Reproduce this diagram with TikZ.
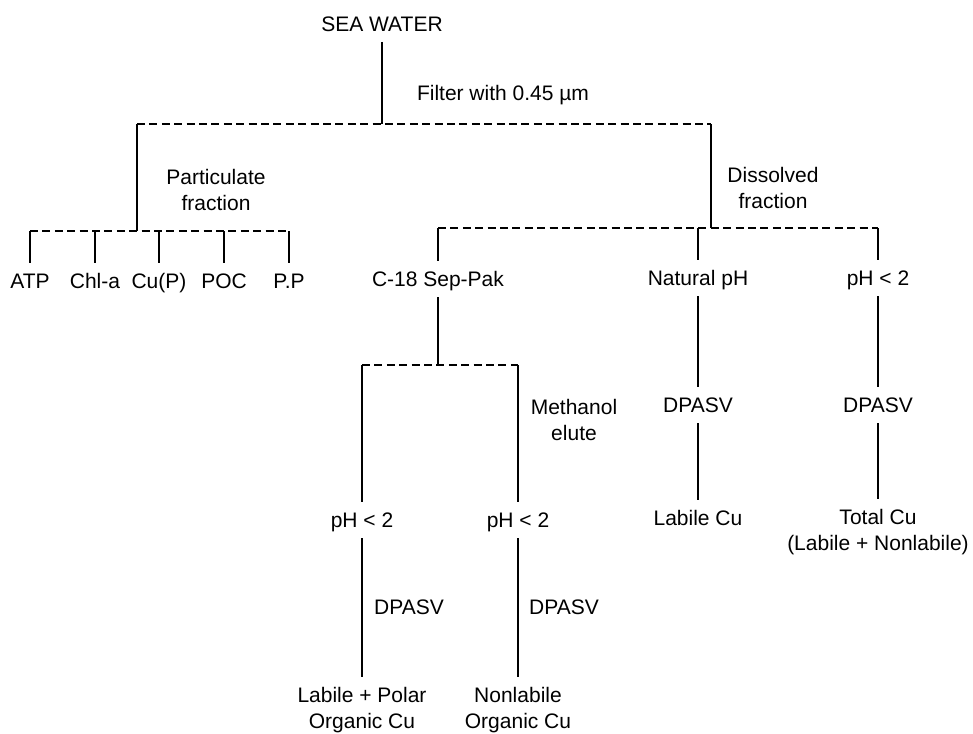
\documentclass[tikz,border=0pt]{standalone}
\usepackage{fontspec}
\setmainfont{Liberation Sans}
\usetikzlibrary{calc}

\begin{document}
\begin{tikzpicture}[x=0.5pt, y=-0.5pt,
    lbl/.style={inner xsep=3pt, inner ysep=5pt, font=\fontsize{10.5}{13}\selectfont, text height=7.6pt, text depth=0pt},
    note/.style={inner xsep=3pt, inner ysep=5pt, font=\fontsize{10.5}{13}\selectfont, align=center},
    link/.style={line width=0.7pt},
    bar/.style={line width=0.7pt, dash pattern=on 4pt off 2.2pt}]
\useasboundingbox (0,0) rectangle (973,733);

\node[lbl] (sea) at (382,24) {SEA WATER};
\node[lbl] (filter) at (503,93) {Filter with 0.45 µm};
\node[note] (part) at (216,190) {Particulate\\fraction};
\node[note] (diss) at (773,188) {Dissolved\\fraction};

\foreach \n/\x/\t in {atp/30/ATP, chla/95/Chl-a, cup/159/Cu(P), poc/224/POC, pp/289/P.P}
    \node[lbl] (\n) at (\x,281) {\t};

\node[lbl] (sep) at (438,279) {C-18 Sep-Pak};
\node[lbl] (nat) at (698,278) {Natural pH};
\node[lbl] (acid) at (878,278) {pH < 2};

\node[note] (meth) at (574,420) {Methanol\\elute};
\node[lbl] (phA) at (362,520) {pH < 2};
\node[lbl] (phB) at (518,520) {pH < 2};
\node[lbl] (dpA) at (409,607) {DPASV};
\node[lbl] (dpB) at (564,607) {DPASV};
\node[note] (labA) at (362,710) {Labile + Polar\\Organic Cu};
\node[note] (labB) at (518,710) {Nonlabile\\Organic Cu};

\node[lbl] (dpN) at (698,405) {DPASV};
\node[lbl] (dpT) at (878,405) {DPASV};
\node[lbl] (labN) at (698,518) {Labile Cu};
\node[note] (totT) at (878,532) {Total Cu\\(Labile + Nonlabile)};

\coordinate (j0) at (382,124);
\coordinate (pl) at (137,124);
\coordinate (pr) at (711,124);
\coordinate (pb) at (137,231);
\coordinate (db) at (711,228);
\coordinate (sb) at (438,365);

\draw[link] (sea) -- (j0);
\draw[bar] (pl) -- (pr);
\draw[link] (pl) -- (pb);
\draw[link] (pr) -- (db);

\draw[bar] (atp |- pb) -- (pp |- pb);
\foreach \n in {atp,chla,cup,poc,pp}
    \draw[link] (\n |- pb) -- (\n);

\draw[bar] (sep |- db) -- (acid |- db);
\foreach \n in {sep,nat,acid}
    \draw[link] (\n |- db) -- (\n);

\draw[link] (sep) -- (sb);
\draw[bar] (phA |- sb) -- (phB |- sb);
\draw[link] (phA |- sb) -- (phA);
\draw[link] (phB |- sb) -- (phB);
\draw[link] (phA) -- (labA);
\draw[link] (phB) -- (labB);

\draw[link] (nat) -- (dpN);
\draw[link] (dpN) -- (labN);
\draw[link] (acid) -- (dpT);
\draw[link] (dpT) -- (totT);
\end{tikzpicture}
\end{document}
